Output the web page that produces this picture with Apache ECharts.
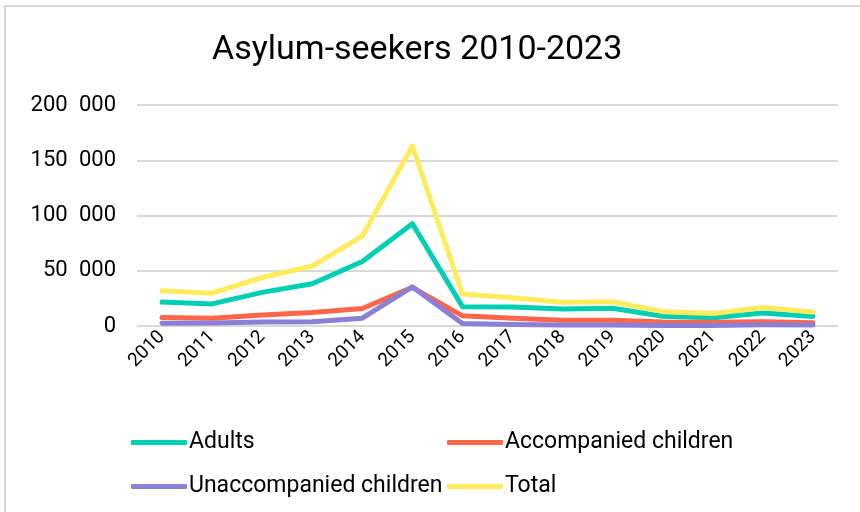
<!DOCTYPE html>
<html>
<head>
<meta charset="utf-8">
<script src="https://cdn.jsdelivr.net/npm/echarts@6/dist/echarts.min.js"></script>
<style>
  html, body { margin: 0; padding: 0; background: #fff; }
  #chart { width: 860px; height: 512px; }
</style>
</head>
<body>
<div id="chart"></div>
<script>
// Asylum applications per year, split by applicant group
const years = ['2010','2011','2012','2013','2014','2015','2016','2017','2018','2019','2020','2021','2022','2023'];
const adults = [21700, 20000, 30400, 38200, 58400, 92500, 17500, 17200, 15400, 16000, 8800, 7500, 11800, 8600];
const accompaniedChildren = [7700, 7000, 9900, 12200, 15900, 35000, 9200, 7100, 5200, 5100, 3700, 3400, 3900, 3000];
const unaccompaniedChildren = [2400, 2650, 3600, 3850, 7050, 35400, 2200, 1350, 950, 900, 500, 500, 1050, 1000];
const total = [31800, 29650, 43900, 54250, 81350, 162900, 28900, 25650, 21550, 22000, 13000, 11400, 16750, 12600];

const seriesNames = ['Adults', 'Accompanied children', 'Unaccompanied children', 'Total'];
const seriesColors = ['#00CFB4', '#FF6548', '#8A80D6', '#FFEB5C'];
const seriesData = [adults, accompaniedChildren, unaccompaniedChildren, total];

const FONT = 'Roboto';

function formatThousands(v) {
  const s = String(v);
  return s.replace(/\B(?=(\d{3})+(?!\d))/g, '\u2002');
}

// Two legend columns laid out as a 2x2 grid
function legendColumn(names, left) {
  return {
    data: names,
    orient: 'vertical',
    left: left,
    top: 426,
    itemWidth: 56,
    itemHeight: 5,
    itemGap: 21,
    icon: 'roundRect',
    textStyle: { fontFamily: FONT, fontSize: 23, color: '#000', padding: [0, 0, 0, -3] }
  };
}

const chart = echarts.init(document.getElementById('chart'), null, { renderer: 'canvas' });

chart.setOption({
  backgroundColor: '#ffffff',
  animation: false,
  textStyle: { fontFamily: FONT },
  graphic: [{
    type: 'rect',
    shape: { x: 5, y: 6, width: 900, height: 600 },
    style: { fill: 'none', stroke: '#d9d9d9', lineWidth: 2 },
    silent: true,
    z: -1
  }],
  title: {
    text: 'Asylum-seekers 2010-2023',
    left: 207,
    top: 28,
    textStyle: { fontFamily: FONT, fontSize: 34, fontWeight: 'normal', color: '#000' }
  },
  legend: [
    legendColumn(['Adults', 'Unaccompanied children'], 126),
    legendColumn(['Accompanied children', 'Total'], 442)
  ],
  grid: { left: 137, right: 22, top: 105, bottom: 186, containLabel: false },
  xAxis: {
    type: 'category',
    data: years,
    boundaryGap: true,
    axisLine: { show: false },
    axisTick: { show: false },
    axisLabel: { rotate: 45, margin: 8, fontSize: 19, color: '#000', fontFamily: FONT }
  },
  yAxis: {
    type: 'value',
    min: 0,
    max: 200000,
    interval: 50000,
    axisLine: { show: false },
    axisTick: { show: false },
    splitLine: { lineStyle: { color: '#d9d9d9', width: 2 } },
    axisLabel: { margin: 21, fontSize: 22, color: '#000', fontFamily: FONT, formatter: formatThousands }
  },
  series: seriesNames.map((name, i) => ({
    name: name,
    type: 'line',
    data: seriesData[i],
    symbol: 'none',
    color: seriesColors[i],
    lineStyle: { width: 5, color: seriesColors[i], cap: 'round', join: 'round' },
    z: 2 + i
  }))
});
</script>
</body>
</html>
